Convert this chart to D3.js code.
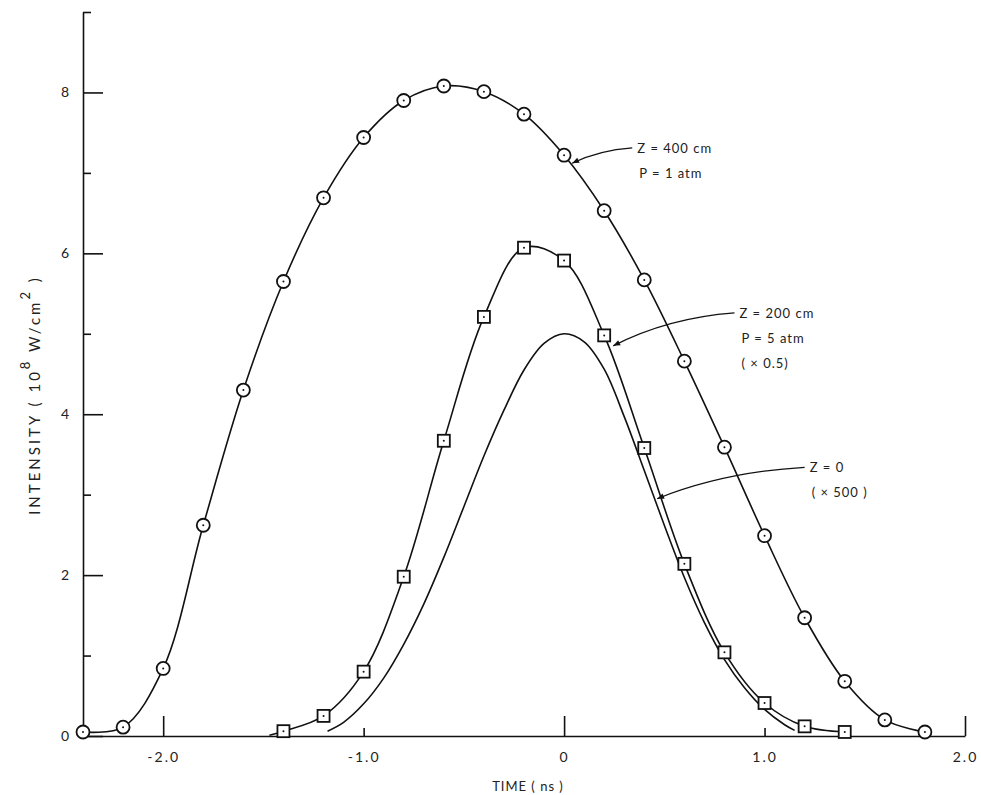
<!DOCTYPE html>
<html>
<head>
<meta charset="utf-8">
<script src="https://cdn.jsdelivr.net/npm/d3@7"></script>
<style>
  body { margin: 0; background: #fff; }
  svg { display: block; }
  text { font-family: Lato, "Open Sans", sans-serif; fill: #222; }
  .axis text { font-size: 14px; letter-spacing: 2px; }
  .note { font-size: 13px; letter-spacing: 1px; }
  .ylabel { font-size: 15px; letter-spacing: 3px; }
</style>
</head>
<body>
<svg width="981" height="795"></svg>
<script>
// **** Data ****

// Z = 400 cm, P = 1 atm (circles)
var z400Time = [-2.4, -2.2, -2.0, -1.8, -1.6, -1.4, -1.2, -1.0, -0.8, -0.6, -0.4,
                -0.2, 0.0, 0.2, 0.4, 0.6, 0.8, 1.0, 1.2, 1.4, 1.6, 1.8];
var z400Intensity = [0.05, 0.11, 0.84, 2.62, 4.3, 5.65, 6.69, 7.44, 7.90, 8.08, 8.01,
                     7.73, 7.22, 6.53, 5.67, 4.66, 3.59, 2.49, 1.47, 0.68, 0.20, 0.05];

// Z = 200 cm, P = 5 atm, x0.5 (squares)
var z200Time = [-1.4, -1.2, -1.0, -0.8, -0.6, -0.4, -0.2, 0.0, 0.2, 0.4, 0.6, 0.8, 1.0, 1.2, 1.4];
var z200Intensity = [0.06, 0.25, 0.80, 1.98, 3.67, 5.21, 6.07, 5.91, 4.98, 3.58, 2.14, 1.04, 0.41, 0.12, 0.05];
var z200Start = [-1.47, 0.01];   // where the drawn curve begins, left of the first square

// Z = 0, x500 (plain curve)
var z0Time = [-1.18, -1.1, -1.0, -0.9, -0.8, -0.7, -0.6, -0.5, -0.4, -0.3, -0.2, -0.1, 0.0,
              0.1, 0.2, 0.3, 0.4, 0.5, 0.6, 0.7, 0.8, 0.9, 1.0, 1.1, 1.15];
var z0Intensity = [0.06, 0.17, 0.40, 0.72, 1.14, 1.64, 2.22, 2.85, 3.48, 4.05, 4.55, 4.88, 5.0,
                   4.9, 4.56, 3.97, 3.3, 2.62, 1.97, 1.41, 0.95, 0.6, 0.33, 0.14, 0.07];

var xTicks = [-2, -1, 0, 1, 2];
var xTickLabels = ["-2.0", "-1.0", "0", "1.0", "2.0"];
var yTicks = [0, 1, 2, 3, 4, 5, 6, 7, 8, 9];

// annotations: label lines, where the leader starts and the point it touches (data units)
var notes = [
    { lines: ["Z = 400  cm", "P = 1  atm"], from: [0.34, 7.31], to: [0.04, 7.12] },
    { lines: ["Z = 200  cm", "P = 5  atm", "( \u00d7 0.5)"], from: [0.85, 5.26], to: [0.245, 4.85] },
    { lines: ["Z = 0", "( \u00d7 500 )"], from: [1.2, 3.34], to: [0.464, 2.95] }
];

// **** Scales and axes ****

var xScale = d3.scaleLinear().domain([-2.4, 2.0]).range([83, 965]);
var yScale = d3.scaleLinear().domain([0, 9]).range([736, 12]);

var svg = d3.select("svg");

svg.append("defs").append("marker")
    .attr("id", "head")
    .attr("viewBox", "0 0 10 10")
    .attr("refX", 10).attr("refY", 5)
    .attr("markerWidth", 9).attr("markerHeight", 7)
    .attr("markerUnits", "userSpaceOnUse")
    .attr("orient", "auto")
    .append("path")
    .attr("d", "M0,1 L10,5 L0,9 Z")
    .attr("fill", "#111");

var xAxis = svg.append("g").attr("class", "axis")
    .attr("transform", "translate(0,736)")
    .call(d3.axisBottom(xScale).tickValues(xTicks)
        .tickFormat((d, i) => xTickLabels[i])
        .tickSizeInner(-8).tickSizeOuter(0).tickPadding(16));
xAxis.selectAll(".tick line").attr("y2", d => d % 2 === 0 ? -20 : -8);

var yAxis = svg.append("g").attr("class", "axis")
    .attr("transform", "translate(83,0)")
    .call(d3.axisLeft(yScale).tickValues(yTicks)
        .tickFormat(d => d % 2 === 0 ? d : "")
        .tickSizeInner(-8).tickSizeOuter(0).tickPadding(12));
yAxis.selectAll(".tick line").attr("x2", d => d % 2 === 0 ? 20 : 8);

svg.selectAll(".axis path, .axis line").attr("stroke", "#111").attr("stroke-width", 1.6);
svg.selectAll(".axis text").attr("fill", "#222");

svg.append("text")
    .attr("class", "note")
    .attr("text-anchor", "middle")
    .attr("x", 528).attr("y", 791)
    .text("TIME  ( ns )");

var ylab = svg.append("text")
    .attr("class", "ylabel")
    .attr("text-anchor", "middle")
    .attr("transform", "translate(40,395) rotate(-90)");
ylab.append("tspan").text("INTENSITY  ( 10");
ylab.append("tspan").attr("dy", -10).attr("font-size", 13).text("8");
ylab.append("tspan").attr("dy", 10).text("  W/cm");
ylab.append("tspan").attr("dy", -10).attr("font-size", 13).text("2");
ylab.append("tspan").attr("dy", 10).text(" )");

// **** Curves ****

var line = d3.line()
    .x(d => xScale(d[0]))
    .y(d => yScale(d[1]))
    .curve(d3.curveCatmullRom.alpha(0.5));

var z400 = z400Time.map((t, i) => [t, z400Intensity[i]]);
var z200 = z200Time.map((t, i) => [t, z200Intensity[i]]);
var z0 = z0Time.map((t, i) => [t, z0Intensity[i]]);

[z400, [z200Start].concat(z200), z0].forEach(function(pts) {
    svg.append("path")
        .attr("d", line(pts))
        .attr("fill", "none")
        .attr("stroke", "#111")
        .attr("stroke-width", 1.6);
});

var circ = svg.selectAll(".circ")
    .data(z400)
    .enter()
    .append("g")
    .attr("class", "circ")
    .attr("transform", d => `translate(${xScale(d[0])},${yScale(d[1])})`);
circ.append("circle").attr("r", 6.5)
    .attr("fill", "#fff").attr("stroke", "#111").attr("stroke-width", 1.8);
circ.append("circle").attr("r", 1).attr("fill", "#111");

var sq = svg.selectAll(".sq")
    .data(z200)
    .enter()
    .append("g")
    .attr("class", "sq")
    .attr("transform", d => `translate(${xScale(d[0])},${yScale(d[1])})`);
sq.append("rect").attr("x", -6).attr("y", -6).attr("width", 12).attr("height", 12)
    .attr("fill", "#fff").attr("stroke", "#111").attr("stroke-width", 1.8);
sq.append("circle").attr("r", 1).attr("fill", "#111");

// **** Annotations ****

notes.forEach(function(n) {
    var x0 = xScale(n.from[0]), y0 = yScale(n.from[1]);
    var x1 = xScale(n.to[0]), y1 = yScale(n.to[1]);
    var p = d3.path();
    p.moveTo(x0, y0);
    p.quadraticCurveTo(x0 - (x0 - x1) * 0.55, y0 + (y1 - y0) * 0.15, x1, y1);
    svg.append("path")
        .attr("d", p.toString())
        .attr("fill", "none")
        .attr("stroke", "#111")
        .attr("stroke-width", 1.2)
        .attr("marker-end", "url(#head)");

    n.lines.forEach(function(s, i) {
        svg.append("text")
            .attr("class", "note")
            .attr("x", x0 + 5 + (i > 0 ? 2 : 0))
            .attr("y", y0 + 5 + i * 25)
            .text(s);
    });
});
</script>
</body>
</html>
